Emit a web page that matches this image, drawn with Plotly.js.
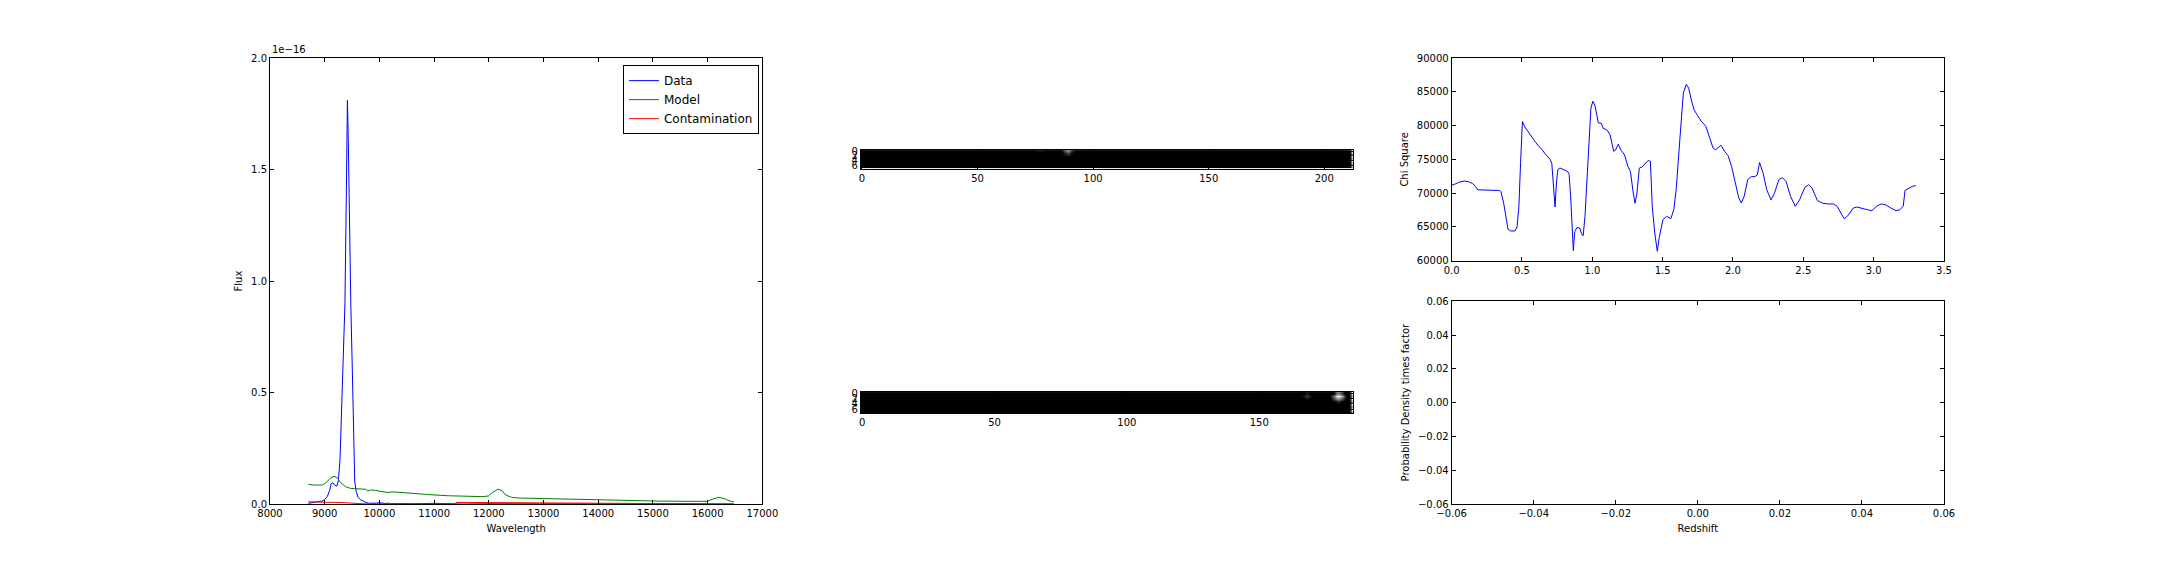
<!DOCTYPE html>
<html>
<head>
<meta charset="utf-8">
<script src="https://cdn.plot.ly/plotly-3.0.1.min.js"></script>
<style>
  html, body { margin: 0; padding: 0; background: #fff; }
  #chart { width: 2160px; height: 576px; }
</style>
</head>
<body>
<div id="chart"></div>
<script>
// spectrum, flux in units of 1e-16
var dataWave = [8700, 8800, 8900, 8950, 9000, 9050, 9090, 9120, 9150, 9180, 9220, 9250, 9280, 9310, 9340, 9370, 9395, 9408, 9415, 9430, 9450, 9478, 9505, 9528, 9549, 9577, 9610, 9650, 9700, 9750, 9820, 9900, 9950, 10000, 10050, 10100, 10150, 10200, 10400, 10600, 11000, 11200, 11500, 12000, 13000, 14000, 15000, 16000, 16480];
var dataFlux = [0.003, 0.006, 0.01, 0.013, 0.02, 0.035, 0.06, 0.092, 0.095, 0.085, 0.08, 0.105, 0.2, 0.42, 0.69, 0.9, 1.38, 1.72, 1.81, 1.65, 1.25, 0.88, 0.6, 0.26, 0.1, 0.055, 0.03, 0.02, 0.012, 0.007, 0.003, 0.002, 0.004, 0.006, 0.003, 0.002, 0.004, 0.001, 0.002, 0.001, 0.003, 0.001, 0.0, 0.001, 0.0005, 0.0004, 0.0003, 0.0002, 0.0];

var modelWave = [8700, 8806, 8946, 9016, 9100, 9170, 9226, 9296, 9380, 9471, 9541, 9611, 9681, 9752, 9787, 9836, 9927, 10067, 10137, 10277, 10488, 10698, 10768, 10909, 11259, 11610, 11890, 11995, 12065, 12170, 12240, 12310, 12415, 12520, 13011, 13712, 14413, 15114, 15675, 15990, 16095, 16200, 16305, 16410, 16480];
var modelFlux = [0.088, 0.085, 0.085, 0.093, 0.115, 0.125, 0.118, 0.095, 0.078, 0.07, 0.069, 0.067, 0.067, 0.066, 0.058, 0.063, 0.061, 0.055, 0.052, 0.054, 0.049, 0.045, 0.043, 0.042, 0.037, 0.034, 0.033, 0.036, 0.052, 0.066, 0.06, 0.04, 0.03, 0.027, 0.024, 0.019, 0.016, 0.013, 0.012, 0.012, 0.022, 0.03, 0.024, 0.013, 0.01];

var contWave = [8700, 9016, 9366, 9647, 9800, 11380, 11400, 11610, 12310, 13011, 13712, 14500, 16480];
var contFlux = [0.01, 0.009, 0.006, 0.0015, 0.0005, 0.0005, 0.007, 0.007, 0.006, 0.003, 0.0015, 0.001, 0.0];

// chi square against redshift
var redshift = [0.00, 0.02, 0.05, 0.09, 0.12, 0.15, 0.17, 0.185, 0.25, 0.30, 0.34, 0.35, 0.37, 0.39, 0.40, 0.42, 0.45, 0.465, 0.478, 0.49, 0.50, 0.503, 0.52, 0.541, 0.56, 0.592, 0.62, 0.643, 0.665, 0.681, 0.70, 0.712, 0.722, 0.735, 0.745, 0.755, 0.77, 0.80, 0.825, 0.835, 0.846, 0.865, 0.875, 0.89, 0.91, 0.925, 0.935, 0.948, 0.962, 0.974, 0.99, 1.004, 1.02, 1.042, 1.063, 1.08, 1.10, 1.126, 1.14, 1.152, 1.164, 1.185, 1.202, 1.228, 1.253, 1.271, 1.291, 1.304, 1.317, 1.334, 1.355, 1.38, 1.398, 1.413, 1.426, 1.444, 1.462, 1.477, 1.502, 1.528, 1.558, 1.579, 1.596, 1.622, 1.647, 1.668, 1.685, 1.706, 1.723, 1.749, 1.774, 1.807, 1.833, 1.858, 1.876, 1.895, 1.914, 1.94, 1.965, 1.99, 2.016, 2.041, 2.059, 2.079, 2.105, 2.13, 2.156, 2.173, 2.189, 2.214, 2.24, 2.27, 2.295, 2.326, 2.351, 2.377, 2.41, 2.443, 2.473, 2.511, 2.537, 2.562, 2.6, 2.639, 2.677, 2.715, 2.74, 2.766, 2.791, 2.816, 2.855, 2.88, 2.918, 2.956, 2.987, 3.02, 3.053, 3.083, 3.122, 3.16, 3.185, 3.21, 3.223, 3.249, 3.274, 3.3];
var chiSquare = [71200, 71300, 71600, 71800, 71700, 71400, 71000, 70500, 70450, 70400, 70400, 70250, 68500, 66000, 64700, 64400, 64400, 65000, 68000, 74500, 79500, 80600, 79800, 79150, 78700, 77660, 76900, 76430, 75800, 75400, 75000, 74400, 71000, 67950, 71500, 73500, 73720, 73400, 73200, 72800, 69500, 61500, 64300, 64900, 64850, 63900, 63700, 66600, 72000, 77900, 82600, 83600, 82900, 80400, 80350, 79500, 79450, 78650, 77300, 76200, 76350, 77250, 76400, 75700, 73960, 73200, 70000, 68500, 70000, 73700, 73900, 74450, 74850, 74700, 68050, 64100, 61400, 63600, 66070, 66570, 66220, 67550, 70500, 77900, 84800, 86100, 85550, 83600, 82350, 81450, 80650, 79900, 78400, 76700, 76400, 76700, 77100, 76200, 75550, 73950, 71500, 69300, 68550, 69500, 72000, 72450, 72450, 72700, 74550, 72950, 70500, 69000, 70000, 72000, 72300, 71750, 69500, 68050, 69000, 70850, 71250, 70750, 68900, 68500, 68400, 68400, 68050, 67050, 66200, 66650, 67800, 67950, 67700, 67550, 67400, 68050, 68400, 68300, 67800, 67400, 67550, 68050, 70400, 70750, 71000, 71100];

// cutout images: black background, bright pixels as [row, col, value]
var img1Rows = 8, img1Cols = 213;
var img1Pixels = [
  [0, 76, 0.04], [0, 77, 0.05], [0, 78, 0.04],
  [0, 87, 0.12], [0, 88, 0.35], [0, 89, 0.55], [0, 90, 0.35], [0, 91, 0.12],
  [1, 88, 0.12], [1, 89, 0.25], [1, 90, 0.12],
  [0, 212, 1.0], [1, 212, 0.55], [2, 212, 1.0], [3, 212, 0.55], [4, 212, 1.0], [5, 212, 0.55], [6, 212, 1.0], [7, 212, 0.55]
];
var img2Rows = 8, img2Cols = 186;
var img2Pixels = [
  [0, 168, 0.12], [1, 167, 0.15], [1, 168, 0.25], [1, 169, 0.15], [2, 168, 0.1],
  [0, 179, 0.35], [0, 180, 0.5], [0, 181, 0.3],
  [1, 177, 0.15], [1, 178, 0.45], [1, 179, 0.8], [1, 180, 1.0], [1, 181, 0.75], [1, 182, 0.4],
  [2, 178, 0.25], [2, 179, 0.5], [2, 180, 0.6], [2, 181, 0.4], [2, 182, 0.15],
  [3, 180, 0.15],
  [0, 185, 1.0], [1, 185, 0.55], [2, 185, 1.0], [3, 185, 0.55], [4, 185, 1.0], [5, 185, 0.55], [6, 185, 1.0], [7, 185, 0.55]
];

function makeImage(rows, cols, pixels) {
  var z = [];
  for (var r = 0; r < rows; r++) {
    z.push(new Array(cols).fill(0));
  }
  pixels.forEach(function (p) { z[p[0]][p[1]] = p[2]; });
  return z;
}

var FONT = 'DejaVu Sans, Bitstream Vera Sans, sans-serif';

function axis(extra) {
  var a = {
    showline: true, linecolor: 'black', linewidth: 1, mirror: 'ticks',
    ticks: 'inside', ticklen: 4, tickwidth: 1, tickcolor: 'black',
    showgrid: false, zeroline: false,
    tickfont: {family: FONT, size: 10, color: 'black'}
  };
  for (var k in extra) a[k] = extra[k];
  return a;
}

function title(text) {
  return {text: text, font: {family: FONT, size: 10, color: 'black'}, standoff: 6};
}

var col1 = [0, 5 / 17], col2 = [6 / 17, 11 / 17], col3 = [12 / 17, 1];
var rowTop = [1.2 / 2.2, 1], rowBottom = [0, 1 / 2.2];

var traces = [
  {x: dataWave, y: dataFlux, mode: 'lines', type: 'scatter', name: 'Data',
   line: {color: '#0000ff', width: 1}, xaxis: 'x', yaxis: 'y'},
  {x: modelWave, y: modelFlux, mode: 'lines', type: 'scatter', name: 'Model',
   line: {color: '#008000', width: 1}, xaxis: 'x', yaxis: 'y'},
  {x: contWave, y: contFlux, mode: 'lines', type: 'scatter', name: 'Contamination',
   line: {color: '#ff0000', width: 1}, xaxis: 'x', yaxis: 'y'},
  {z: makeImage(img1Rows, img1Cols, img1Pixels), type: 'heatmap', zsmooth: 'best',
   colorscale: [[0, '#000000'], [1, '#ffffff']], zmin: 0, zmax: 1, showscale: false,
   xaxis: 'x2', yaxis: 'y2', showlegend: false},
  {z: makeImage(img2Rows, img2Cols, img2Pixels), type: 'heatmap', zsmooth: 'best',
   colorscale: [[0, '#000000'], [1, '#ffffff']], zmin: 0, zmax: 1, showscale: false,
   xaxis: 'x3', yaxis: 'y3', showlegend: false},
  {x: redshift, y: chiSquare, mode: 'lines', type: 'scatter', showlegend: false,
   line: {color: '#0000ff', width: 1}, xaxis: 'x4', yaxis: 'y4'},
  {x: [], y: [], mode: 'lines', type: 'scatter', showlegend: false,
   xaxis: 'x5', yaxis: 'y5'}
];

var layout = {
  width: 2160, height: 576,
  margin: {l: 270, r: 216, t: 58, b: 72},
  paper_bgcolor: 'white', plot_bgcolor: 'white',
  font: {family: FONT, size: 10, color: 'black'},
  showlegend: true,
  legend: {
    x: 0.2921, xanchor: 'right', y: 0.984, yanchor: 'top',
    bordercolor: 'black', borderwidth: 1, bgcolor: 'white', itemwidth: 30,
    font: {family: FONT, size: 12, color: 'black'}
  },
  xaxis: axis({domain: col1, anchor: 'y', range: [8000, 17000], dtick: 1000, tickformat: 'd',
               title: title('Wavelength')}),
  yaxis: axis({domain: [0, 1], anchor: 'x', range: [0, 2], dtick: 0.5, tickformat: '.1f',
               title: title('Flux')}),
  xaxis2: axis({domain: col2, anchor: 'y2', range: [-0.5, img1Cols - 0.5],
                tickvals: [0, 50, 100, 150, 200], constrain: 'domain'}),
  yaxis2: axis({domain: rowTop, anchor: 'x2', range: [img1Rows - 0.5, -0.5],
                tickvals: [0, 2, 4, 6], scaleanchor: 'x2', scaleratio: 1, constrain: 'domain'}),
  xaxis3: axis({domain: col2, anchor: 'y3', range: [-0.5, img2Cols - 0.5],
                tickvals: [0, 50, 100, 150], constrain: 'domain'}),
  yaxis3: axis({domain: rowBottom, anchor: 'x3', range: [img2Rows - 0.5, -0.5],
                tickvals: [0, 2, 4, 6], scaleanchor: 'x3', scaleratio: 1, constrain: 'domain'}),
  xaxis4: axis({domain: col3, anchor: 'y4', range: [0, 3.5], dtick: 0.5, tickformat: '.1f'}),
  yaxis4: axis({domain: rowTop, anchor: 'x4', range: [60000, 90000], dtick: 5000, tickformat: 'd',
                title: title('Chi Square')}),
  xaxis5: axis({domain: col3, anchor: 'y5', range: [-0.06, 0.06], dtick: 0.02, tickformat: '.2f',
                title: title('Redshift')}),
  yaxis5: axis({domain: rowBottom, anchor: 'x5', range: [-0.06, 0.06], dtick: 0.02, tickformat: '.2f',
                title: title('Probability Density times factor')}),
  annotations: [
    {text: '1e\u221216', xref: 'x domain', yref: 'y domain', x: 0, y: 1,
     xanchor: 'left', yanchor: 'bottom', yshift: 1, showarrow: false,
     font: {family: FONT, size: 10, color: 'black'}}
  ]
};

Plotly.newPlot('chart', traces, layout, {displayModeBar: false, staticPlot: true});
</script>
</body>
</html>
